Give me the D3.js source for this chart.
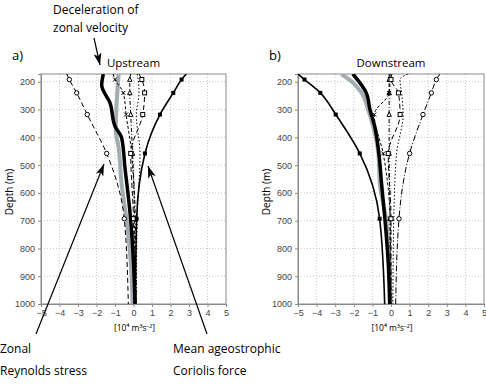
<!DOCTYPE html>
<html><head><meta charset="utf-8">
<script src="https://cdn.jsdelivr.net/npm/d3@7"></script>
<style>body{margin:0;background:#fff}svg{display:block}text{font-family:"Open Sans","Noto Sans",sans-serif}</style>
</head><body><svg id="c" width="486" height="390"></svg>
<script>
// ---- data ----
const markerDepths = [172, 192, 240, 318, 458, 693, 1000];
const xTicks = [-5,-4,-3,-2,-1,0,1,2,3,4,5];
const yTicks = [200,300,400,500,600,700,800,900,1000];

// Panel a (Upstream)
const coriolisA  = [2.85, 2.6, 2.15, 1.43, 0.62, 0.17, 0.1];
const reynoldsA  = [-3.6, -3.47, -3.07, -2.5, -1.45, -0.5, -0.28];
const squaresA   = [0.3, 0.45, 0.6, 0.5, -0.15, 0.0, 0.05];
const crossA     = [-1.1, -1.0, -0.55, -0.4, -0.1, 0.05, 0.05];
const triA       = [-0.15, -0.2, -0.2, -0.15, -0.05, 0.1, 0.15];
const dotA       = [0.2, 0.25, 0.3, 0.15, 0.35, 0.2, 0.15];
const thickDepthA = [172, 212, 276, 360, 402, 510, 670, 850, 1000];
const thickA      = [-1.63, -1.72, -1.27, -1.0, -0.64, -0.46, -0.19, 0.0, 0.08];
const grayDepthA  = [172, 375, 430, 570, 700, 850, 1000];
const grayA       = [-0.8, -0.96, -0.82, -0.64, -0.37, -0.15, -0.05];

// Panel b (Downstream)
const coriolisB  = [-5.0, -4.65, -3.8, -2.97, -1.68, -0.61, -0.34];
const reynoldsB  = [2.62, 2.44, 2.17, 1.72, 1.0, 0.43, 0.25];
const squaresB   = [0.05, 0.0, 0.4, 0.49, -0.15, 0.0, 0.0];
const crossB     = [-0.05, -0.05, -0.1, -0.9, -0.42, -0.05, 0.0];
const triB       = [-0.1, -0.1, -0.1, -0.1, -0.1, -0.05, -0.05];
const dotB       = [0.9, 0.48, 0.57, 0.65, 0.3, 0.15, 0.1];
const thickDepthB = [172, 240, 300, 365, 460, 572, 700, 850, 1000];
const thickB      = [-2.05, -1.33, -1.13, -0.86, -0.65, -0.5, -0.32, -0.15, -0.07];
const grayDepthB  = [172, 200, 240, 302, 363, 458, 572, 700, 850, 1000];
const grayB       = [-2.67, -2.1, -1.58, -1.22, -0.95, -0.68, -0.59, -0.25, -0.1, -0.02];

// ---- drawing ----
const svg = d3.select("#c");
const defs = svg.append("defs");
defs.append("marker").attr("id","ah").attr("viewBox","0 0 12 8").attr("refX",12).attr("refY",4)
  .attr("markerWidth",12).attr("markerHeight",8).attr("markerUnits","userSpaceOnUse").attr("orient","auto")
  .append("path").attr("d","M0,0 L12,4 L0,8 L3,4 Z").attr("fill","#000");

const y = d3.scaleLinear().domain([172,1000]).range([74,304]);

function panel(x0, x1, label, title, d) {
  const x = d3.scaleLinear().domain([-5,5]).range([x0,x1]);
  const g = svg.append("g");
  g.selectAll(".gx").data(xTicks.slice(1,-1)).join("line")
    .attr("x1",v=>x(v)).attr("x2",v=>x(v)).attr("y1",74).attr("y2",304)
    .attr("stroke","#c8c8c8").attr("stroke-dasharray","1,2");
  g.selectAll(".gy").data(yTicks.slice(0,-1)).join("line")
    .attr("y1",v=>y(v)).attr("y2",v=>y(v)).attr("x1",x0).attr("x2",x1)
    .attr("stroke","#c8c8c8").attr("stroke-dasharray","1,2");
  g.append("rect").attr("x",x0).attr("y",74).attr("width",x1-x0).attr("height",230)
    .attr("fill","none").attr("stroke","#8a8a8a");
  const ax = g.append("g").attr("transform",`translate(0,304)`)
    .call(d3.axisBottom(x).tickValues(xTicks).tickSize(3).tickFormat(d3.format("d")));
  const ay = g.append("g").attr("transform",`translate(${x0},0)`)
    .call(d3.axisLeft(y).tickValues(yTicks).tickSize(3).tickFormat(d3.format("d")));
  [ax,ay].forEach(a=>{
    a.select(".domain").attr("stroke","#8a8a8a");
    a.selectAll(".tick line").attr("stroke","#8a8a8a");
    a.selectAll("text").attr("fill","#444").style("font-size","9px").style("font-family","Arial, 'Liberation Sans', sans-serif");
  });
  ax.selectAll("text").text(v=> v<0 ? "\u2212"+(-v) : v);

  const line = (vals, depths) => d3.line().x((v,i)=>x(v)).y((v,i)=>y(depths[i])).curve(d3.curveMonotoneY)(vals);
  const clip = "clip"+label[0];
  defs.append("clipPath").attr("id",clip).append("rect").attr("x",x0).attr("y",74).attr("width",x1-x0).attr("height",230);
  const pg = g.append("g").attr("clip-path",`url(#${clip})`);

  function series(vals, opts) {
    pg.append("path").attr("d",line(vals, markerDepths)).attr("fill","none")
      .attr("stroke",opts.color||"#000").attr("stroke-width",opts.w||1)
      .attr("stroke-dasharray",opts.dash||null);
    const pts = vals.slice(1,-1).map((v,i)=>[x(v), y(markerDepths[i+1])]);
    pts.forEach(([px,py])=>{
      if (opts.m==="fsq") pg.append("rect").attr("x",px-2).attr("y",py-2).attr("width",4).attr("height",4).attr("fill","#000");
      if (opts.m==="osq") pg.append("rect").attr("x",px-2).attr("y",py-2).attr("width",4).attr("height",4).attr("fill","#fff").attr("stroke","#000");
      if (opts.m==="oc") pg.append("circle").attr("cx",px).attr("cy",py).attr("r",2.2).attr("fill","#fff").attr("stroke","#000");
      if (opts.m==="x") pg.append("path").attr("d",`M${px-2},${py-2}L${px+2},${py+2}M${px-2},${py+2}L${px+2},${py-2}`).attr("stroke","#000");
      if (opts.m==="tri") pg.append("path").attr("d",`M${px},${py-2.5}L${px+2.2},${py+1.8}L${px-2.2},${py+1.8}Z`).attr("fill","#fff").attr("stroke","#000");
    });
  }
  pg.append("path").attr("d",line(d.gray,d.grayDepth)).attr("fill","none").attr("stroke","#a3adb1").attr("stroke-width",4);
  pg.append("path").attr("d",line(d.thick,d.thickDepth)).attr("fill","none").attr("stroke","#000").attr("stroke-width",3.5);
  series(d.dot,{dash:"1.5,2"});
  series(d.tri,{dash:"4,2,1,2",m:"tri"});
  series(d.cross,{dash:"3,2",m:"x"});
  series(d.squares,{dash:"5,3",m:"osq"});
  series(d.reynolds,{dash:d.rdash,m:"oc"});
  series(d.coriolis,{w:1.6,m:"fsq"});

  svg.append("text").attr("x",(x0+x1)/2).attr("y",67).attr("text-anchor","middle").style("font-size","11.5px").text(title);
  svg.append("text").attr("x",x0-29).attr("y",60).style("font-size","13px").text(label);
  svg.append("text").attr("transform",`translate(${x0-28},192) rotate(-90)`).attr("text-anchor","middle").style("font-size","10px").text("Depth (m)");
  svg.append("text").attr("x",(x0+x1)/2+1).attr("y",331).attr("text-anchor","middle").style("font-size","8.5px")
    .text("[10\u2074 m\u00b3s\u207b\u00b2]");
  return x;
}

panel(41, 226, "a)", "Upstream", {coriolis:coriolisA, reynolds:reynoldsA, squares:squaresA, cross:crossA, tri:triA, dot:dotA,
  thick:thickA, thickDepth:thickDepthA, gray:grayA, grayDepth:grayDepthA, rdash:"5,3"});
panel(298, 484, "b)", "Downstream", {coriolis:coriolisB, reynolds:reynoldsB, squares:squaresB, cross:crossB, tri:triB, dot:dotB,
  thick:thickB, thickDepth:thickDepthB, gray:grayB, grayDepth:grayDepthB, rdash:"6,2,1,2"});

const ann = [["Deceleration of",53,14],["zonal velocity",53,32],["Zonal",0,353],["Reynolds stress",0,375],["Mean ageostrophic",173,353],["Coriolis force",173,375]];
ann.forEach(([t,ax,ay])=>svg.append("text").attr("x",ax).attr("y",ay).style("font-size","12px").text(t));
const arrows = [[94,38,100,65],[36,334,104,164],[207,334,148,166]];
arrows.forEach(([a,b,c,d])=>svg.append("line").attr("x1",a).attr("y1",b).attr("x2",c).attr("y2",d)
  .attr("stroke","#000").attr("stroke-width",1.2).attr("marker-end","url(#ah)"));
</script></body></html>
